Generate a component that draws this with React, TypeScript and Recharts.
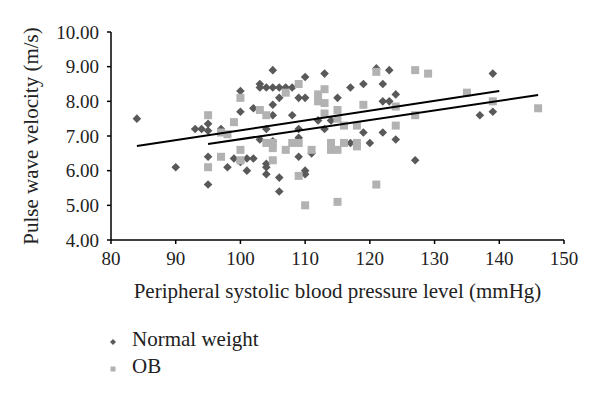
import { ScatterChart, Scatter, XAxis, YAxis, Legend } from 'recharts';

// Normal weight group (diamonds)
const nwX = [
	84, 90, 93, 94, 95, 95, 95, 95, 97, 98, 99, 100, 100, 100, 101, 102, 101, 102,
	103, 103, 104, 105, 105, 105, 105, 103, 104, 104, 104, 104, 106, 106, 107, 108,
	108, 109, 110, 110, 113, 109, 109, 112, 113, 114, 115, 117, 119, 121, 123, 122,
	122, 123, 124, 119, 120, 117, 122, 124, 109, 111, 110, 110, 106, 106, 127, 137,
	139, 139, 105
];
const nwY = [
	7.5, 6.1, 7.2, 7.2, 7.35, 7.15, 6.4, 5.6, 7.2, 6.1, 6.35, 8.3, 7.7, 6.25, 6.35, 6.35, 6.0, 7.8,
	8.5, 8.4, 8.4, 8.9, 8.4, 7.9, 7.6, 6.9, 7.2, 6.2, 6.1, 5.9, 8.4, 8.1, 8.4, 8.4,
	7.6, 8.1, 8.1, 8.7, 8.8, 7.2, 6.95, 7.45, 7.2, 7.45, 8.1, 8.4, 8.5, 8.95, 8.9, 8.5,
	8.0, 8.0, 8.2, 7.1, 6.8, 6.8, 7.1, 6.9, 6.4, 6.5, 6.0, 5.9, 5.8, 5.4, 6.3, 7.6,
	8.8, 7.7, 6.85
];

// OB group (squares)
const obX = [
	95, 95, 97, 97, 98, 99, 100, 100, 100, 103, 104, 104, 105, 105, 105, 107, 109,
	107, 108, 109, 111, 112, 112, 113, 113, 113, 114, 114, 115, 115, 115, 116, 116,
	118, 118, 118, 119, 121, 124, 124, 109, 110, 115, 121, 127, 129, 135, 139, 146, 127
];
const obY = [
	7.6, 6.1, 6.4, 7.1, 7.05, 7.4, 8.1, 6.6, 6.3, 7.75, 7.6, 6.8, 6.8, 6.65, 6.3, 8.25, 8.5,
	6.6, 6.8, 6.8, 6.6, 8.2, 8.0, 8.35, 7.95, 7.65, 6.8, 6.6, 6.6, 7.75, 7.5, 7.3, 6.8,
	7.3, 6.8, 6.7, 7.9, 8.85, 7.85, 7.3, 5.85, 5.0, 5.1, 5.6, 8.9, 8.8, 8.25, 8.0, 7.8, 7.6
];

// linear trend lines (end points)
const trendNwX = [84, 140];
const trendNwY = [6.71, 8.3];
const trendObX = [95, 146];
const trendObY = [6.77, 8.18];

const xTicks = [80, 90, 100, 110, 120, 130, 140, 150];
const yTicks = [4, 5, 6, 7, 8, 9, 10];

const toPoints = (xs: number[], ys: number[]) => xs.map((x, i) => ({ x, y: ys[i] }));

const normalData = toPoints(nwX, nwY);
const obData = toPoints(obX, obY);
const trendNormal = toPoints(trendNwX, trendNwY);
const trendOb = toPoints(trendObX, trendObY);

const FONT = "'Liberation Serif', 'Times New Roman', serif";
const DARK = '#595959';
const LIGHT = '#b2b2b2';

const Diamond = (props: any) => {
	const { cx, cy } = props;
	const r = 4.3;
	return <path d={`M${cx},${cy - r}L${cx + r},${cy}L${cx},${cy + r}L${cx - r},${cy}Z`} fill={DARK} />;
};

const Square = (props: any) => {
	const { cx, cy } = props;
	return <rect x={cx - 4} y={cy - 4} width={8} height={8} fill={LIGHT} />;
};

const NoDot = () => <g />;

const LegendBox = () => (
	<div style={{ fontFamily: FONT, fontSize: 21, color: '#222', lineHeight: '27px' }}>
		<div style={{ display: 'flex', alignItems: 'center' }}>
			<svg width={24} height={12} style={{ position: 'relative', top: 2 }}>
				<path d='M5,3L8,6L5,9L2,6Z' fill={DARK} />
			</svg>
			<span>Normal weight</span>
		</div>
		<div style={{ display: 'flex', alignItems: 'center' }}>
			<svg width={24} height={12} style={{ position: 'relative', top: 2 }}>
				<rect x={2.5} y={3.5} width={5} height={5} fill={LIGHT} />
			</svg>
			<span>OB</span>
		</div>
	</div>
);

const App = () => {
	return (
		<div style={{ position: 'absolute', left: 0, top: 0, background: '#fff' }}>
			<ScatterChart
				width={600}
				height={395}
				margin={{ top: 32, right: 36, left: 10, bottom: 75 }}
			>
				<XAxis
					type='number'
					dataKey='x'
					domain={[80, 150]}
					ticks={xTicks}
					height={80}
					stroke='#000'
					strokeWidth={1.5}
					tickSize={4}
					tickMargin={8}
					tick={{ fill: '#222', fontSize: 19, fontFamily: FONT }}
					label={{
						value: 'Peripheral systolic blood pressure level (mmHg)',
						position: 'insideBottom',
						offset: 22,
						style: { fill: '#222', fontSize: 21, fontFamily: FONT }
					}}
				/>
				<YAxis
					type='number'
					dataKey='y'
					domain={[4, 10]}
					ticks={yTicks}
					width={101}
					stroke='#000'
					strokeWidth={1.5}
					tickSize={4}
					tickMargin={8}
					tickFormatter={(v: number) => v.toFixed(2)}
					tick={{ fill: '#222', fontSize: 19, fontFamily: FONT }}
					label={{
						value: 'Pulse wave velocity (m/s)',
						angle: -90,
						position: 'insideLeft',
						offset: 21,
						style: { fill: '#222', fontSize: 21, fontFamily: FONT, textAnchor: 'middle' }
					}}
				/>
				<Scatter name='Normal weight' data={normalData} shape={Diamond} isAnimationActive={false} />
				<Scatter name='OB' data={obData} shape={Square} isAnimationActive={false} />
				<Scatter
					data={trendNormal}
					shape={NoDot}
					line={{ stroke: '#000', strokeWidth: 2 }}
					legendType='none'
					isAnimationActive={false}
				/>
				<Scatter
					data={trendOb}
					shape={NoDot}
					line={{ stroke: '#000', strokeWidth: 2 }}
					legendType='none'
					isAnimationActive={false}
				/>
				<Legend
					layout='vertical'
					align='center'
					verticalAlign='middle'
					content={LegendBox}
					wrapperStyle={{ left: 108, top: 326, width: 250 }}
				/>
			</ScatterChart>
		</div>
	);
};

export default App;
